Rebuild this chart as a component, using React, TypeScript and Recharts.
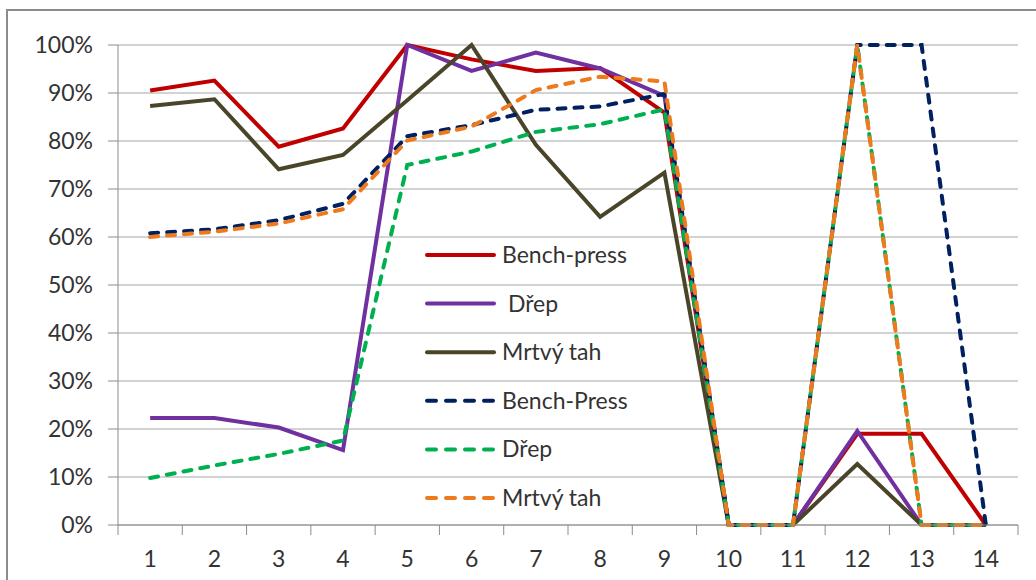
import { LineChart, Line, XAxis, YAxis, CartesianGrid, Legend } from 'recharts';

// measurement rounds on the x axis
const rounds = [1, 2, 3, 4, 5, 6, 7, 8, 9, 10, 11, 12, 13, 14];

// solid lines
const benchPress = [90.5, 92.6, 78.8, 82.6, 100, 97.0, 94.6, 95.2, 85.9, 0, 0, 19.0, 19.0, 0];
const drep = [22.3, 22.3, 20.3, 15.6, 100, 94.6, 98.4, 95.1, 89.4, 0, 0, 19.6, 0, 0];
const mrtvyTah = [87.3, 88.7, 74.1, 77.1, 88.5, 100, 79.2, 64.2, 73.4, 0, 0, 12.7, 0, 0];

// dashed lines
const benchPressB = [60.8, 61.6, 63.5, 66.9, 81.0, 83.3, 86.5, 87.2, 89.8, 0, 0, 100, 100, 0];
const drepB = [9.8, 12.4, 14.8, 17.6, 75.0, 77.8, 81.9, 83.5, 86.6, 0, 0, 100, 0, 0];
const mrtvyTahB = [60.0, 61.1, 62.8, 65.8, 80.1, 83.0, 90.6, 93.4, 92.4, 0, 0, 100, 0, 0];

const yTicks = [0, 10, 20, 30, 40, 50, 60, 70, 80, 90, 100];
// category boundaries get a tick mark, round numbers get a label
const xBounds = [0.5, 1.5, 2.5, 3.5, 4.5, 5.5, 6.5, 7.5, 8.5, 9.5, 10.5, 11.5, 12.5, 13.5, 14.5];

const series = [
  { key: 'benchPress', name: 'Bench-press', color: '#C00000', dashed: false, values: benchPress },
  { key: 'drep', name: ' Dřep', color: '#7030A0', dashed: false, values: drep },
  { key: 'mrtvyTah', name: 'Mrtvý tah', color: '#4A4529', dashed: false, values: mrtvyTah },
  { key: 'benchPressB', name: 'Bench-Press', color: '#002060', dashed: true, values: benchPressB },
  { key: 'drepB', name: 'Dřep', color: '#00B050', dashed: true, values: drepB },
  { key: 'mrtvyTahB', name: 'Mrtvý tah', color: '#EE7A1E', dashed: true, values: mrtvyTahB },
];

const data = rounds.map((round, i) => {
  const row: Record<string, number> = { round };
  series.forEach(s => { row[s.key] = s.values[i]; });
  return row;
});

const allXTicks = [...xBounds, ...rounds].sort((a, b) => a - b);

const FONT = 'Lato, "DejaVu Sans", sans-serif';
const FONT_SIZE = 23;
const TEXT = '#333333';
const AXIS = '#8c8c8c';

const XTick = ({ x, y, payload }: any) => {
  const v = payload.value;
  if (!Number.isInteger(v)) {
    return <line x1={x} x2={x} y1={y} y2={y + 10} stroke={AXIS} strokeWidth={1} />;
  }
  return (
    <text x={x} y={y + 26} dy="0.71em" textAnchor="middle" fill={TEXT} fontSize={FONT_SIZE} fontFamily={FONT}>
      {v}
    </text>
  );
};

const LegendBox = () => (
  <svg width={240} height={300}>
    {series.map((s, i) => (
      <g key={s.key} transform={`translate(0, ${15 + i * 48.6})`}>
        <line
          x1={2}
          x2={69}
          y1={0}
          y2={0}
          stroke={s.color}
          strokeWidth={4}
          strokeLinecap="round"
          strokeDasharray={s.dashed ? '9 10' : undefined}
        />
        <text x={77} y={0} dy="0.35em" fill={TEXT} fontSize={FONT_SIZE} fontFamily={FONT} style={{ whiteSpace: 'pre' }}>
          {s.name}
        </text>
      </g>
    ))}
  </svg>
);

export default function App() {
  return (
    <div style={{ position: 'absolute', top: 0, left: 0, width: 1036, height: 580, overflow: 'hidden', background: '#fff' }}>
      <div style={{ position: 'absolute', left: 6, top: 9, width: 1100, height: 700, border: `2px solid ${AXIS}` }} />
      <LineChart width={1036} height={580} data={data} margin={{ top: 45, right: 18, left: 0, bottom: 0 }}>
        <CartesianGrid vertical={false} stroke="#a6a6a6" strokeWidth={1} />
        <XAxis
          dataKey="round"
          type="number"
          domain={[0.5, 14.5]}
          ticks={allXTicks}
          interval={0}
          height={55}
          tickSize={0}
          tickMargin={0}
          tickLine={false}
          stroke={AXIS}
          tick={<XTick />}
        />
        <YAxis
          type="number"
          domain={[0, 100]}
          ticks={yTicks}
          interval={0}
          width={118}
          tickSize={10}
          tickMargin={15}
          stroke={AXIS}
          tickFormatter={(v: number) => `${v}%`}
          tick={{ fill: TEXT, fontSize: FONT_SIZE, fontFamily: FONT }}
        />
        <Legend
          layout="horizontal"
          verticalAlign="middle"
          align="center"
          content={<LegendBox />}
          wrapperStyle={{ left: 425, top: 240, width: 240, height: 300 }}
        />
        {series.map(s => (
          <Line
            key={s.key}
            type="linear"
            dataKey={s.key}
            name={s.name}
            stroke={s.color}
            strokeWidth={4}
            strokeDasharray={s.dashed ? '8 9' : undefined}
            strokeLinecap={s.dashed ? 'round' : 'butt'}
            strokeLinejoin="miter"
            dot={false}
            activeDot={false}
            isAnimationActive={false}
          />
        ))}
      </LineChart>
    </div>
  );
}
